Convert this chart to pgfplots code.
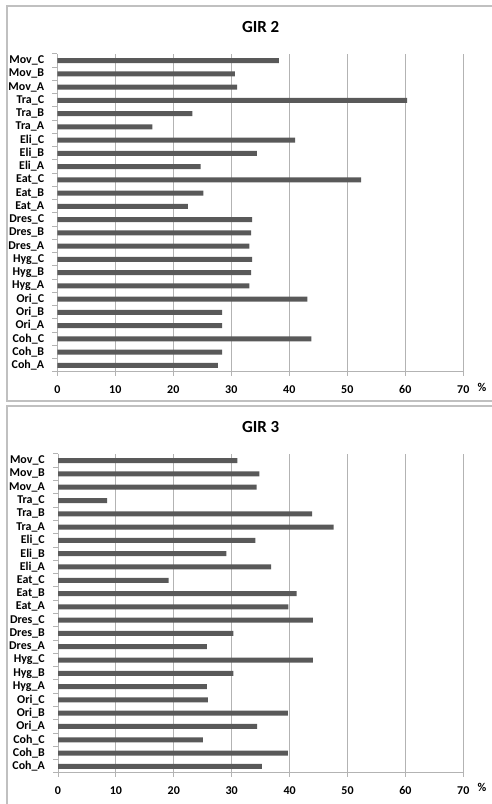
\documentclass[border=0pt]{standalone}
\usepackage{fontspec}
\setmainfont{Carlito}
\usepackage{pgfplots}
\pgfplotsset{compat=1.18}
\definecolor{barc}{HTML}{595959}
\definecolor{gridc}{HTML}{B3B3B3}
\definecolor{framec}{HTML}{C0C0C0}
\pgfplotsset{girstyle/.style={
  xbar, scale only axis, width=406bp, height=318bp,
  xmin=0, xmax=70, ymin=-0.5, ymax=23.5,
  xtick={0,10,...,70}, ytick={0,...,23},
  yticklabels={Coh\_A,Coh\_B,Coh\_C,Ori\_A,Ori\_B,Ori\_C,Hyg\_A,Hyg\_B,Hyg\_C,Dres\_A,Dres\_B,Dres\_C,Eat\_A,Eat\_B,Eat\_C,Eli\_A,Eli\_B,Eli\_C,Tra\_A,Tra\_B,Tra\_C,Mov\_A,Mov\_B,Mov\_C},
  minor ytick={-0.5,0.5,...,23.5},
  axis x line*=bottom, axis y line*=left,
  axis line style={gridc, line width=1bp, -},
  xmajorgrids, major grid style={gridc, line width=1bp},
  tick align=outside,
  major tick length=4bp, minor tick length=5bp,
  major x tick style={gridc, line width=1bp},
  major y tick style={draw=none},
  minor y tick style={gridc, line width=1bp},
  /pgf/number format/assume math mode=true,
  every tick label/.append style={font=\bfseries\fontsize{12}{14}\selectfont, text=black},
  yticklabel style={inner sep=0pt, xshift=-9bp},
  xticklabel style={inner sep=0pt, yshift=-9bp},
  bar width=5bp,
}}
\begin{document}
\begin{tikzpicture}[x=1bp,y=1bp]
\begin{scope}
\clip (0,0) rectangle (492,804);
\draw[framec, line width=1.2bp] (7,798) rectangle (520,403);
\draw[framec, line width=1.2bp] (7,398) rectangle (520,-20);
\end{scope}
\node[font=\bfseries\fontsize{17}{20}\selectfont] at (260.7,777) {GIR 2};
\node[font=\bfseries\fontsize{17}{20}\selectfont] at (260.7,377) {GIR 3};
\begin{axis}[girstyle, at={(57.3bp,432bp)}, anchor=south west]
\addplot[fill=barc, draw=none] coordinates {
(27.7,0) (28.4,1) (43.8,2) (28.4,3) (28.4,4) (43.1,5) (33.1,6) (33.4,7) (33.6,8) (33.1,9) (33.4,10) (33.6,11)
(22.5,12) (25.2,13) (52.4,14) (24.7,15) (34.4,16) (41.0,17) (16.4,18) (23.3,19) (60.3,20) (31.0,21) (30.6,22) (38.2,23)};
\end{axis}
\begin{axis}[girstyle, width=405.3bp, height=319bp, at={(58bp,31bp)}, anchor=south west]
\addplot[fill=barc, draw=none] coordinates {
(35.2,0) (39.7,1) (25.0,2) (34.4,3) (39.7,4) (25.9,5) (25.7,6) (30.3,7) (44.0,8) (25.7,9) (30.3,10) (44.0,11)
(39.8,12) (41.2,13) (19.1,14) (36.8,15) (29.1,16) (34.1,17) (47.6,18) (43.9,19) (8.5,20) (34.3,21) (34.8,22) (31.0,23)};
\end{axis}
\node[font=\bfseries\fontsize{12}{14}\selectfont] at (482,417) {\%};
\node[font=\bfseries\fontsize{12}{14}\selectfont] at (482,17) {\%};
\pgfresetboundingbox
\path[use as bounding box] (0,0) rectangle (492,804);
\end{tikzpicture}
\end{document}
